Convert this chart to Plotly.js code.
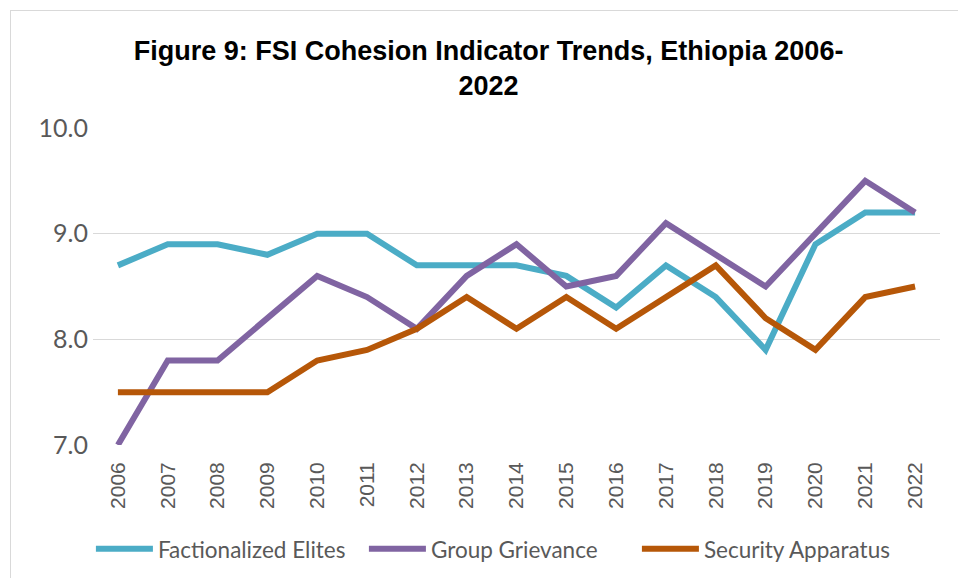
<!DOCTYPE html>
<html>
<head>
<meta charset="utf-8">
<script src="https://cdn.plot.ly/plotly-3.0.1.min.js"></script>
<style>
html,body{margin:0;padding:0;background:#fff;}
#wrap{position:relative;width:958px;height:578px;overflow:hidden;}
#chart{width:958px;height:578px;}
#frame{position:absolute;left:10px;top:10px;width:1000px;height:1000px;border:1px solid #d9d9d9;box-sizing:border-box;pointer-events:none;}
</style>
</head>
<body>
<div id="wrap"><div id="chart"></div><div id="frame"></div></div>
<script>
const years = ['2006','2007','2008','2009','2010','2011','2012','2013','2014','2015','2016','2017','2018','2019','2020','2021','2022'];
const factionalizedElites = [8.7,8.9,8.9,8.8,9.0,9.0,8.7,8.7,8.7,8.6,8.3,8.7,8.4,7.9,8.9,9.2,9.2];
const groupGrievance = [7.0,7.8,7.8,8.2,8.6,8.4,8.1,8.6,8.9,8.5,8.6,9.1,8.8,8.5,9.0,9.5,9.2];
const securityApparatus = [7.5,7.5,7.5,7.5,7.8,7.9,8.1,8.4,8.1,8.4,8.1,8.4,8.7,8.2,7.9,8.4,8.5];
const yTicks = [7,8,9,10];
const yTickText = ['7.0','8.0','9.0','10.0'];

function tr(name, y, color){
  return {x: years, y: y, name: name, type: 'scatter', mode: 'lines',
    line: {color: color, width: 6, shape: 'linear'}, hoverinfo: 'x+y'};
}
const data = [
  tr('Factionalized Elites', factionalizedElites, '#4BACC6'),
  tr('Group Grievance', groupGrievance, '#8064A2'),
  tr('Security Apparatus', securityApparatus, '#B65708')
];
const layout = {
  width: 958, height: 578,
  margin: {l: 93, r: 18, t: 128, b: 133},
  paper_bgcolor: '#fff', plot_bgcolor: '#fff',
  title: {text: '<b>Figure 9: FSI Cohesion Indicator Trends, Ethiopia 2006-<br>2022</b>',
    font: {family: 'Liberation Sans, Arial, sans-serif', size: 27, color: '#000'},
    x: 0.51, xanchor: 'center', y: 0.897, yanchor: 'top'},
  xaxis: {type: 'category', range: [-0.5, 16.5], tickangle: -90, showgrid: false,
    zeroline: false, showline: false, ticks: '', ticklabelstandoff: 12,
    tickfont: {family: 'Liberation Sans, Arial, sans-serif', size: 21, color: '#595959'}},
  yaxis: {range: [7, 10], tickvals: yTicks, ticktext: yTickText, showgrid: true,
    gridcolor: '#d9d9d9', gridwidth: 1.5, zeroline: false, showline: false, ticks: '',
    ticklabelstandoff: 4,
    tickfont: {family: 'Lato, Open Sans, sans-serif', size: 25, color: '#595959'}},
  showlegend: true,
  legend: {orientation: 'h', x: 0.481, xanchor: 'center', yref: 'container', y: 0.05, yanchor: 'middle',
    font: {family: 'Lato, Open Sans, sans-serif', size: 22.5, color: '#595959'},
    itemwidth: 57, entrywidth: 201, tracegroupgap: 0}
};
Plotly.newPlot('chart', data, layout, {displayModeBar: false, staticPlot: true});
</script>
</body>
</html>
